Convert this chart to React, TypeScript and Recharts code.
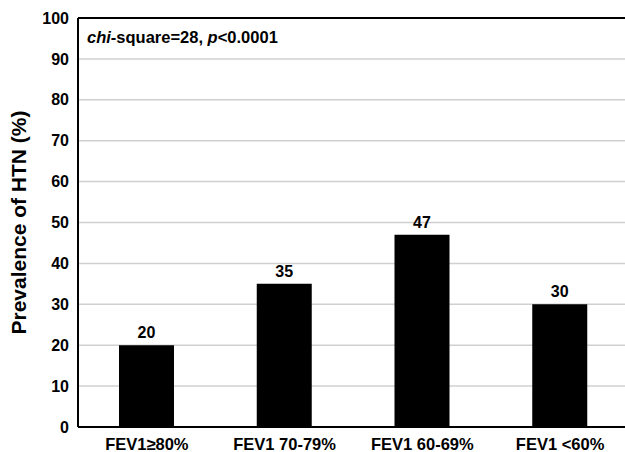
import React from "react";
import {
  BarChart,
  Bar,
  XAxis,
  YAxis,
  CartesianGrid,
  ReferenceLine,
  LabelList,
} from "recharts";

const categories = ["FEV1≥80%", "FEV1 70-79%", "FEV1 60-69%", "FEV1 <60%"];
const prevalence = [20, 35, 47, 30];
const yTicks = [0, 10, 20, 30, 40, 50, 60, 70, 80, 90, 100];

const data = categories.map((name, i) => ({ name, value: prevalence[i] }));

const font = "'Liberation Sans', Arial, sans-serif";

export default function App() {
  return (
    <div
      style={{
        position: "absolute",
        left: 0,
        top: 0,
        width: 625,
        height: 452,
        overflow: "hidden",
        background: "#fff",
        fontFamily: font,
      }}
    >
      <BarChart
        width={629}
        height={452}
        data={data}
        margin={{ top: 18, right: 0, bottom: 0, left: 0 }}
      >
        <CartesianGrid vertical={false} stroke="#d0d0d0" strokeWidth={1.5} />
        <XAxis
          dataKey="name"
          height={25}
          tickSize={0}
          tickMargin={11}
          axisLine={{ stroke: "#000", strokeWidth: 2 }}
          tick={{ fill: "#000", fontSize: 16.5, fontWeight: "bold", fontFamily: font }}
        />
        <YAxis
          width={78}
          domain={[0, 100]}
          ticks={yTicks}
          interval={0}
          tickSize={0}
          tickMargin={9}
          axisLine={{ stroke: "#000", strokeWidth: 2 }}
          tick={{ fill: "#000", fontSize: 16, fontWeight: "bold", fontFamily: font }}
          label={{
            value: "Prevalence of HTN (%)",
            angle: -90,
            position: "insideLeft",
            offset: 0,
            dx: 19,
            style: {
              textAnchor: "middle",
              fill: "#000",
              fontSize: 21,
              fontWeight: "bold",
              fontFamily: font,
            },
          }}
        />
        <ReferenceLine y={100} stroke="#000" strokeWidth={2} ifOverflow="visible" />
        <Bar dataKey="value" fill="#000" barSize={55} isAnimationActive={false}>
          <LabelList
            dataKey="value"
            position="top"
            offset={7}
            style={{ fill: "#000", fontSize: 16, fontWeight: "bold", fontFamily: font }}
          />
        </Bar>
      </BarChart>
      <div
        style={{
          position: "absolute",
          left: 87,
          top: 28,
          fontSize: 16.5,
          lineHeight: "18px",
          fontWeight: "bold",
          color: "#000",
          whiteSpace: "nowrap",
        }}
      >
        <i>chi</i>-square=28, <i>p</i>&lt;0.0001
      </div>
    </div>
  );
}
